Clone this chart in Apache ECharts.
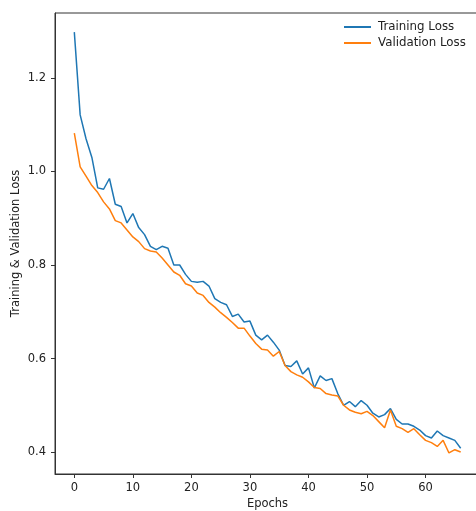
<!DOCTYPE html>
<html>
<head>
<meta charset="utf-8">
<script src="https://cdn.jsdelivr.net/npm/echarts@6/dist/echarts.min.js"></script>
<style>
  html, body { margin: 0; padding: 0; background: #fff; }
  #chart { width: 476px; height: 511px; }
</style>
</head>
<body>
<div id="chart"></div>
<script>
// loss per epoch
const epochs = Array.from({ length: 67 }, (_, i) => i);
const trainLoss = [
  1.298, 1.121, 1.07, 1.03, 0.965, 0.962, 0.985, 0.93, 0.925, 0.89,
  0.91, 0.88, 0.865, 0.84, 0.833, 0.84, 0.836, 0.80, 0.80, 0.78,
  0.765, 0.763, 0.765, 0.755, 0.728, 0.72, 0.715, 0.69, 0.695, 0.678,
  0.68, 0.65, 0.64, 0.65, 0.635, 0.618, 0.585, 0.583, 0.595, 0.567,
  0.58, 0.537, 0.563, 0.553, 0.557, 0.525, 0.50, 0.508, 0.497, 0.51,
  0.50, 0.483, 0.475, 0.48, 0.493, 0.47, 0.46, 0.46, 0.455, 0.447,
  0.435, 0.43, 0.445, 0.435, 0.43, 0.425, 0.408
];
const valLoss = [
  1.082, 1.01, 0.99, 0.97, 0.955, 0.935, 0.92, 0.895, 0.89, 0.875,
  0.86, 0.85, 0.835, 0.83, 0.828, 0.815, 0.80, 0.785, 0.778, 0.76,
  0.755, 0.74, 0.735, 0.72, 0.71, 0.698, 0.688, 0.677, 0.665, 0.665,
  0.648, 0.632, 0.62, 0.618, 0.605, 0.615, 0.585, 0.572, 0.565, 0.56,
  0.55, 0.538, 0.536, 0.525, 0.522, 0.52, 0.50, 0.49, 0.485, 0.482,
  0.487, 0.478, 0.465, 0.452, 0.49, 0.455, 0.45, 0.442, 0.45, 0.437,
  0.425, 0.42, 0.412, 0.425, 0.398, 0.405, 0.40
];
const xTicks = [0, 10, 20, 30, 40, 50, 60];
const yTicks = [0.4, 0.6, 0.8, 1.0, 1.2];

const chart = echarts.init(document.getElementById('chart'));
const font = 'DejaVu Sans';
const txt = '#222';

chart.setOption({
  animation: false,
  textStyle: { fontFamily: font },
  grid: {
    left: 55, top: 13, width: 425, height: 461,
    outerBoundsMode: 'none', containLabel: false,
    show: true, borderColor: '#333', borderWidth: 1
  },
  legend: {
    orient: 'vertical',
    left: 339, top: 16,
    itemWidth: 27, itemHeight: 2, itemGap: 4,
    icon: 'rect',
    textStyle: { fontFamily: font, fontSize: 11.8, color: txt, padding: [0, 0, 0, 2] },
    data: ['Training Loss', 'Validation Loss']
  },
  xAxis: {
    type: 'value',
    min: -3.3, max: 69.3,
    name: 'Epochs', nameLocation: 'middle', nameGap: 24, nameMoveOverlap: false,
    nameTextStyle: { fontFamily: font, fontSize: 11.5, color: txt },
    splitLine: { show: false },
    axisLine: { onZero: false, lineStyle: { color: '#333' } },
    axisTick: { customValues: xTicks, length: 4, lineStyle: { color: '#333' } },
    axisLabel: { customValues: xTicks, margin: 8, fontSize: 11.5, color: txt }
  },
  yAxis: {
    type: 'value',
    min: 0.353, max: 1.339,
    name: 'Training & Validation Loss', nameLocation: 'middle', nameGap: 33, nameMoveOverlap: false,
    nameTextStyle: { fontFamily: font, fontSize: 11.5, color: txt },
    splitLine: { show: false },
    axisLine: { show: true, onZero: false, lineStyle: { color: '#333' } },
    axisTick: { show: true, customValues: yTicks, length: 4, lineStyle: { color: '#333' } },
    axisLabel: {
      customValues: yTicks, margin: 9, fontSize: 11.5, color: txt,
      formatter: v => v.toFixed(1)
    }
  },
  series: [
    {
      name: 'Training Loss', type: 'line', showSymbol: false,
      color: '#1f77b4', lineStyle: { width: 1.5 },
      data: epochs.map((e, i) => [e, trainLoss[i]])
    },
    {
      name: 'Validation Loss', type: 'line', showSymbol: false,
      color: '#ff7f0e', lineStyle: { width: 1.5 },
      data: epochs.map((e, i) => [e, valLoss[i]])
    }
  ]
});
window.addEventListener('resize', () => chart.resize());
</script>
</body>
</html>
